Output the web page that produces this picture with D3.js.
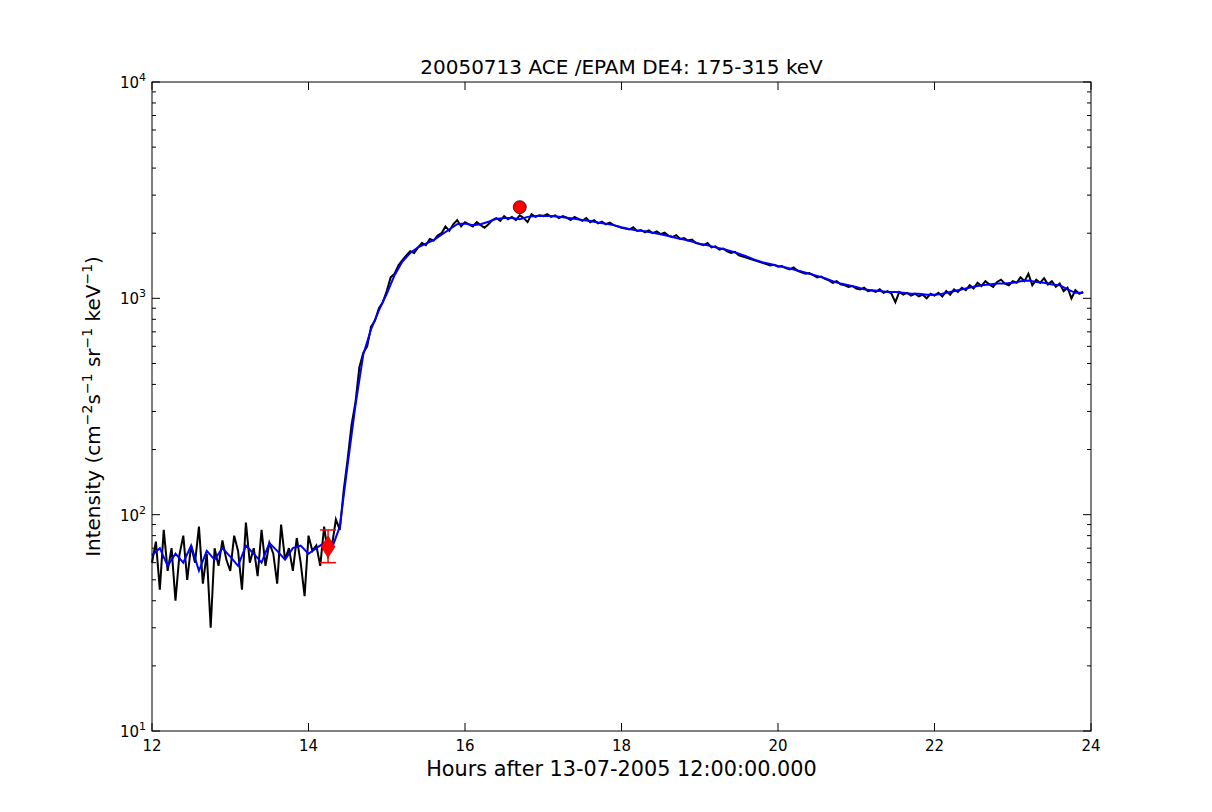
<!DOCTYPE html>
<html>
<head>
<meta charset="utf-8">
<script src="https://cdn.jsdelivr.net/npm/d3@7"></script>
<style>
  body { margin: 0; background: #fff; }
  text { font-family: "DejaVu Sans", sans-serif; }
</style>
</head>
<body>
<svg id="chart" width="1212" height="812"></svg>
<script>
// black: raw intensity, every 0.05 h from 12.0
var rawValues = [
  60,75,45,85,55,70,40,65,80,50,72,60,88,48,66,30,70,58,76,62,55,80,68,45,92,60,70,52,85,58,74,66,48,90,62,70,55,78,60,42,80,68,72,58,88,65,
  72,95,85,130,180,260,330,480,560,600,740,790,900,960,1080,1250,1300,1420,1500,1580,1650,1620,1720,1800,1760,1880,1850,1950,2000,2150,2050,2200,2300,2150,2250,
  2200,2150,2250,2180,2120,2200,2300,2350,2280,2400,2320,2380,2300,2420,2350,2250,2450,2380,2420,2400,
  2450,2380,2420,2350,2400,2360,2300,2380,2330,2280,2350,2250,2300,2220,2260,2200,2240,2180,2150,2120,
  2100,2080,2130,2050,2070,2020,2060,2000,2040,1980,2010,1950,1920,1960,1880,1900,1850,1870,1800,1780,
  1760,1800,1720,1740,1680,1700,1650,1620,1640,1580,1560,1540,1520,1500,1480,1460,1440,1420,1430,1400,
  1410,1380,1360,1390,1340,1320,1300,1310,1280,1250,1260,1230,1210,1180,1200,1160,1150,1130,1140,1110,
  1100,1120,1080,1090,1070,1100,1060,1080,1050,960,1070,1040,1060,1030,1050,1020,1040,1000,1050,1030,
  1060,1020,1080,1040,1100,1070,1120,1090,1150,1110,1180,1140,1200,1160,1130,1190,1220,1170,1150,1200,
  1180,1250,1200,1300,1150,1220,1180,1240,1160,1200,1130,1170,1080,1120,1000,1090,1050,1070
];
// blue: smoothed intensity, every 0.1 h from 12.0
var smoothValues = [
  65,70,58,66,60,72,55,68,62,70,64,58,72,66,60,74,68,62,70,72,66,70,74,
  70,88,170,320,550,720,880,1050,1280,1480,1620,1720,1790,1860,1970,2080,2200,2220,
  2180,2200,2260,2330,2350,2350,2320,2380,2400,2410,
  2400,2380,2360,2330,2300,2280,2240,2210,2180,2130,
  2090,2060,2040,2010,1980,1940,1900,1870,1830,1790,
  1760,1720,1690,1650,1610,1560,1510,1470,1440,1410,
  1390,1360,1330,1300,1270,1240,1200,1170,1150,1130,
  1100,1090,1080,1070,1070,1060,1050,1050,1040,1040,
  1050,1070,1090,1110,1130,1150,1160,1170,1170,1180,
  1200,1210,1190,1180,1160,1150,1100,1060,1060
];
var onset = { t: 14.25, v: 71, lo: 60, hi: 85, tlo: 14.17, thi: 14.33 };
var peak = { t: 16.70, v: 2640 };
var xTicks = [12, 14, 16, 18, 20, 22, 24];
var yTicks = [1, 2, 3, 4];

var svg = d3.select("#chart");
var pLeft = 152, pRight = 1091, pTop = 82, pBottom = 731;

var x = d3.scaleLinear().domain([12, 24]).range([pLeft, pRight]);
var y = d3.scaleLog().domain([10, 10000]).range([pBottom, pTop]);

var rawData = rawValues.map((v, i) => [12 + i * 0.05, v]);
var smoothData = smoothValues.map((v, i) => [12 + i * 0.1, v]);

var lineGen = d3.line().x(d => x(d[0])).y(d => y(d[1]));

svg.append("path").datum(rawData).attr("d", lineGen)
  .attr("fill", "none").attr("stroke", "#000").attr("stroke-width", 2);
svg.append("path").datum(smoothData).attr("d", lineGen)
  .attr("fill", "none").attr("stroke", "#0000ff").attr("stroke-width", 2);

// onset marker with error bars
var g = svg.append("g").attr("stroke", "red").attr("stroke-width", 1.5);
g.append("line").attr("x1", x(onset.t)).attr("x2", x(onset.t)).attr("y1", y(onset.lo)).attr("y2", y(onset.hi));
g.append("line").attr("x1", x(onset.tlo)).attr("x2", x(onset.thi)).attr("y1", y(onset.v)).attr("y2", y(onset.v));
[onset.lo, onset.hi].forEach(v => {
  g.append("line").attr("x1", x(onset.t) - 8).attr("x2", x(onset.t) + 8).attr("y1", y(v)).attr("y2", y(v));
});
svg.append("path")
  .attr("transform", "translate(" + x(onset.t) + "," + y(onset.v) + ")")
  .attr("d", "M0,-11L7,0L0,11L-7,0Z").attr("fill", "red").attr("stroke", "#c00").attr("stroke-width", 0.5);

svg.append("circle").attr("cx", x(peak.t)).attr("cy", y(peak.v)).attr("r", 6.5)
  .attr("fill", "red").attr("stroke", "#000").attr("stroke-width", 0.7);

// frame
svg.append("rect").attr("x", pLeft).attr("y", pTop).attr("width", pRight - pLeft).attr("height", pBottom - pTop)
  .attr("fill", "none").attr("stroke", "#000").attr("stroke-width", 1);

// x ticks (inward, top and bottom)
xTicks.forEach(t => {
  svg.append("line").attr("x1", x(t)).attr("x2", x(t)).attr("y1", pBottom).attr("y2", pBottom - 8).attr("stroke", "#000");
  svg.append("line").attr("x1", x(t)).attr("x2", x(t)).attr("y1", pTop).attr("y2", pTop + 8).attr("stroke", "#000");
  svg.append("text").attr("x", x(t)).attr("y", pBottom + 20).attr("text-anchor", "middle")
    .attr("font-size", 15).text(t);
});

// y ticks, major + minor
for (var e = 1; e <= 3; e++) {
  for (var m = 2; m <= 9; m++) {
    var yy = y(m * Math.pow(10, e));
    svg.append("line").attr("x1", pLeft).attr("x2", pLeft + 4).attr("y1", yy).attr("y2", yy).attr("stroke", "#000");
    svg.append("line").attr("x1", pRight).attr("x2", pRight - 4).attr("y1", yy).attr("y2", yy).attr("stroke", "#000");
  }
}
yTicks.forEach(e => {
  var yy = y(Math.pow(10, e));
  svg.append("line").attr("x1", pLeft).attr("x2", pLeft + 8).attr("y1", yy).attr("y2", yy).attr("stroke", "#000");
  svg.append("line").attr("x1", pRight).attr("x2", pRight - 8).attr("y1", yy).attr("y2", yy).attr("stroke", "#000");
  var t = svg.append("text").attr("x", pLeft - 6).attr("y", yy + 6).attr("text-anchor", "end").attr("font-size", 15);
  t.append("tspan").text("10");
  t.append("tspan").attr("dy", -7).attr("font-size", 11).text(e);
});

svg.append("text").attr("x", (pLeft + pRight) / 2).attr("y", 74).attr("text-anchor", "middle")
  .attr("font-size", 20).text("20050713 ACE /EPAM DE4: 175-315 keV");
svg.append("text").attr("x", (pLeft + pRight) / 2).attr("y", 776).attr("text-anchor", "middle")
  .attr("font-size", 20.8).text("Hours after 13-07-2005 12:00:00.000");

var yl = svg.append("text").attr("transform", "translate(100," + ((pTop + pBottom) / 2) + ") rotate(-90)")
  .attr("text-anchor", "middle").attr("font-size", 20);
[["Intensity (cm", 0], ["\u22122", 1], ["s", 0], ["\u22121", 1], [" sr", 0], ["\u22121", 1], [" keV", 0], ["\u22121", 1], [")", 0]]
  .forEach((p, i, arr) => {
    var prevSup = i > 0 && arr[i - 1][1];
    var ts = yl.append("tspan").text(p[0]);
    if (p[1]) ts.attr("font-size", 14).attr("dy", -8);
    else if (prevSup) ts.attr("dy", 8);
  });
</script>
</body>
</html>
